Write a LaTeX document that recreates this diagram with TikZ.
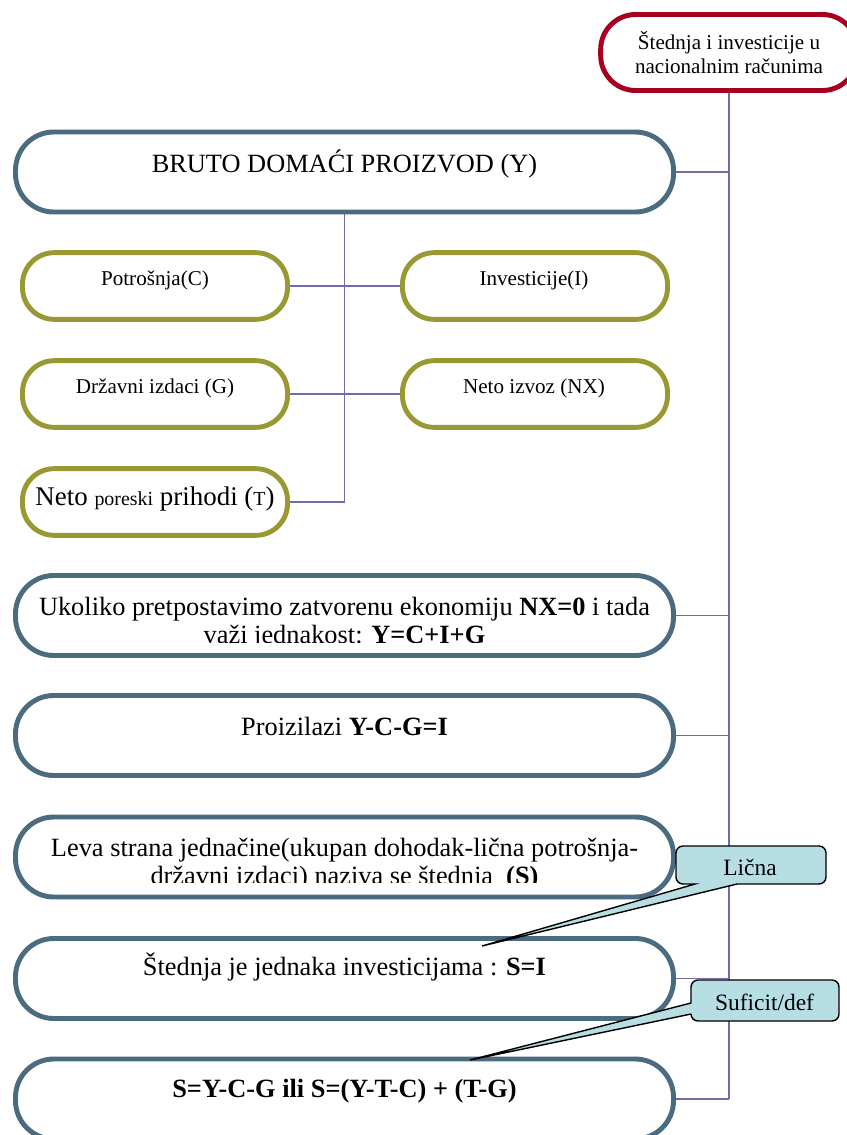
\documentclass[tikz,border=0pt]{standalone}
\usepackage{fontspec}
\setmainfont{Liberation Serif}
\usepackage{tikz}
\usetikzlibrary{calc,backgrounds}

\definecolor{sivoplava}{RGB}{75,107,128}
\definecolor{maslinasta}{RGB}{153,153,51}
\definecolor{bordo}{RGB}{166,0,33}
\definecolor{ljubicasta}{RGB}{112,108,170}
\definecolor{tirkizna}{RGB}{183,222,226}

\begin{document}
\begin{tikzpicture}[x=0.03cm,y=-0.03cm,
        glavni/.style={draw=sivoplava, line width=4.2pt, rounded corners=1.15cm, fill=white,
                minimum width=19.74cm, minimum height=2.4cm},
        stavka/.style={draw=maslinasta, line width=4.2pt, rounded corners=0.95cm, fill=white,
                minimum width=7.95cm, minimum height=2.0cm},
        naslov/.style={draw=bordo, line width=4.2pt, rounded corners=1.05cm, fill=white,
                minimum width=7.7cm, minimum height=2.28cm, align=center,
                font=\fontsize{18}{20.4}\selectfont},
        veza/.style={draw=ljubicasta, line width=1.5pt},
        tekst/.style={anchor=base, inner sep=0pt, align=center, font=\fontsize{22.5}{23.8}\selectfont},
        malitekst/.style={anchor=base, inner sep=0pt, font=\fontsize{18}{20}\selectfont},
        oblacic/.style={draw=black, fill=tirkizna, line width=1.2pt},
        oblacictekst/.style={anchor=base, inner sep=0pt, font=\fontsize{20}{22}\selectfont}]
        % okvir slike (847 x 1135)
        \useasboundingbox (0,0) rectangle (847,1135);
        \clip (0,0) rectangle (847,1135);

        % naslov gore desno
        \node[naslov] (naslov) at (729,52.5) {Štednja i investicije u\\nacionalnim računima};

        % BDP i njegove komponente
        \node[glavni] (bdp) at (344.5,172) {};
        \node[tekst] (bdptekst) at (344.5,172) {BRUTO DOMAĆI PROIZVOD (Y)};

        \node[stavka] (potrosnja) at (155,286) {};
        \node[stavka] (investicije) at (535,286) {};
        \node[stavka] (drzavni) at (155,394) {};
        \node[stavka] (izvoz) at (535,394) {};
        \node[stavka] (porezi) at (155,502) {};

        \node[malitekst] (potrosnjatekst) at (155,285) {Potrošnja(C)};
        \node[malitekst] (investicijetekst) at (534,285) {Investicije(I)};
        \node[malitekst] (drzavnitekst) at (155,393) {Državni izdaci (G)};
        \node[malitekst] (izvoztekst) at (534,393) {Neto izvoz (NX)};
        % ovde su slova razlicite velicine
        \node[malitekst, font=\fontsize{23}{25}\selectfont] (poreztekst) at (155,505)
                {Neto {\fontsize{17}{19}\selectfont poreski} prihodi ({\fontsize{17}{19}\selectfont T})};

        % izvodjenje S=I
        \node[glavni] (ukoliko) at (344.5,615.5) {};
        \node[glavni] (proizilazi) at (344.5,735.5) {};
        \node[glavni] (leva) at (344.5,857) {};
        \node[glavni] (stednja) at (344.5,978.5) {};
        \node[glavni] (formula) at (344.5,1099) {};

        % drugi red teksta je odsecen kao na slici
        \begin{scope}
                \clip (0,560) rectangle (847,642);
                \node[tekst] (ukolikotekst) at (344.5,643)
                        {Ukoliko pretpostavimo zatvorenu ekonomiju \textbf{NX=0} i tada\\
                         važi jednakost: \textbf{Y=C+I+G}};
        \end{scope}
        \node[tekst] (proizilazitekst) at (344.5,735) {Proizilazi \textbf{Y-C-G=I}};
        \begin{scope}
                \clip (0,800) rectangle (847,882);
                \node[tekst] (levatekst) at (344.5,884)
                        {Leva strana jednačine(ukupan dohodak-lična potrošnja-\\
                         državni izdaci) naziva se štednja~ \textbf{(S)}};
        \end{scope}
        \node[tekst] (stednjatekst) at (344.5,975) {Štednja je jednaka investicijama : \textbf{S=I}};
        \node[tekst] (formulatekst) at (344.5,1097) {\textbf{S=Y-C-G ili S=(Y-T-C) + (T-G)}};

        % veze (iza okvira)
        \begin{scope}[on background layer]
                \draw[veza] (naslov.south) -- (naslov.south |- formula.east);
                \foreach \k in {bdp,ukoliko,proizilazi,leva,stednja,formula}
                        \draw[veza] (\k.east) -- (\k.east -| naslov.south);
                \draw[veza] (bdp.south) |- (porezi.east);
                \draw[veza] (potrosnja.east) -- (investicije.west);
                \draw[veza] (drzavni.east) -- (izvoz.west);
        \end{scope}

        % oblacici
        \coordinate (vrhL) at (482,946);
        \coordinate (vrhS) at (470,1060);
        \draw[oblacic] (vrhL) -- (695,884) [rounded corners=6pt] -- (676,884) -- (676,846)
                -- (826,846) -- (826,884) [sharp corners] -- (737,884) -- cycle;
        \node[oblacictekst] (licna) at (750,875) {Lična};
        \draw[oblacic] (vrhS) -- (691,1014) [rounded corners=6pt] -- (691,1021) -- (839,1021)
                -- (839,980) -- (691,980) [sharp corners] -- (691,1003) -- cycle;
        \node[oblacictekst] (suficit) at (764.5,1010) {Suficit/def};
\end{tikzpicture}
\end{document}
